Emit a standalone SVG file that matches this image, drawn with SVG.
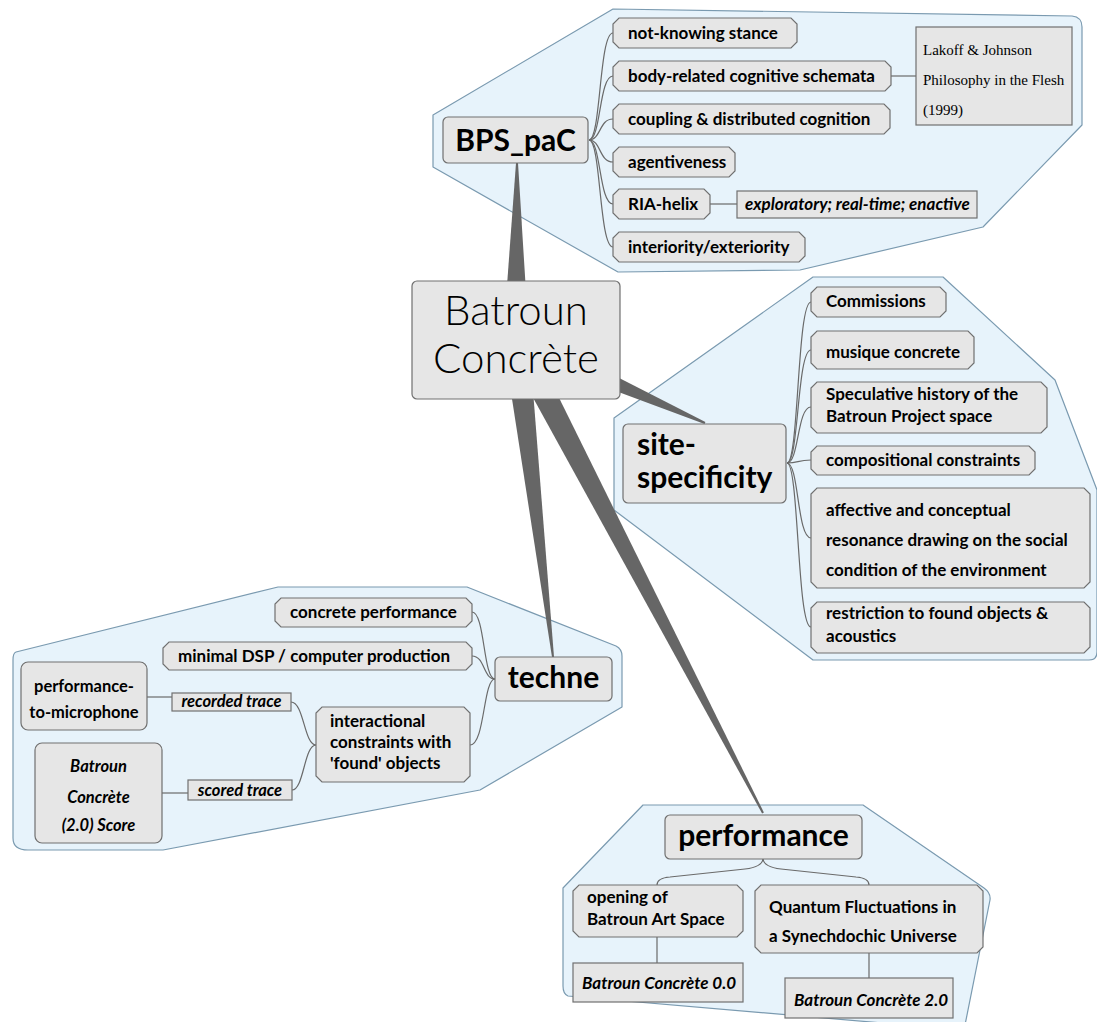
<svg xmlns="http://www.w3.org/2000/svg" width="1097" height="1022" viewBox="0 0 1097 1022">
  <style>
    .cluster { fill: #e7f3fb; stroke: #7a9ab0; stroke-width: 1.2; stroke-linejoin: round; }
    .node { fill: #e6e6e6; stroke: #707070; stroke-width: 1.2; }
    .wedge { fill: #666666; }
    .link { fill: none; stroke: #6a6a6a; stroke-width: 1.2; }
    .title { font-family: Lato, "Open Sans", sans-serif; font-weight: bold; font-size: 30px; fill: #000; }
    .main { font-family: Lato, "Open Sans", sans-serif; font-weight: 300; font-size: 42px; fill: #000; }
    .lbl { font-family: Lato, "Open Sans", sans-serif; font-weight: bold; font-size: 17px; fill: #000; }
    .lbl15 { font-family: Lato, "Open Sans", sans-serif; font-weight: bold; font-size: 16.5px; fill: #000; }
    .it { font-family: Lato, "Open Sans", sans-serif; font-weight: bold; font-style: italic; font-size: 17px; fill: #000; }
    .it15 { font-family: Lato, "Open Sans", sans-serif; font-weight: bold; font-style: italic; font-size: 16.5px; fill: #000; }
    .ref { font-family: "Liberation Serif", "Times New Roman", serif; font-size: 15px; fill: #000; }
  </style>

  <!-- cluster backgrounds -->
  <g id="clusters">
    <path class="cluster" d="M613,9 L1072,16 Q1082,17 1082,27 L1082,125 L983,227 L800,270 L618,272 L433,167 L433,115 Z"/>
    <path class="cluster" d="M813,277 L943,277 L1055,380 L1097,490 L1097,652 Q1097,660 1089,660 L813,660 L614,510 L614,418 Z"/>
    <path class="cluster" d="M16,652 L278,587 L467,587 L616,646 Q622,649 622,656 L622,707 L480,790 L163,850 L28,850 Q13,850 13,838 L13,660 Q13,653 16,652 Z"/>
    <path class="cluster" d="M643,805 L863,805 L984,888 Q991,893 990,900 L964,1030 L568,996 Q563,994 563,986 L563,888 Z"/>
  </g>

  <!-- connectors -->
  <g id="connectors">
    <!-- tapered branches from the root -->
    <polygon class="wedge" points="503,340 529,340 518,163 516,163"/>
    <polygon class="wedge" points="510.8,351.9 521.2,328.1 705.4,422.1 704.6,423.9"/>
    <polygon class="wedge" points="528.9,338.5 503.1,341.5 552,657.1 554,656.9"/>
    <polygon class="wedge" points="527.5,334 504.5,346 762.1,813.5 763.9,812.5"/>

    <!-- BPS_paC fan -->
    <path class="link" d="M589,140 C601,140 599,33 613,33"/>
    <path class="link" d="M589,140 C601,140 599,76 613,76"/>
    <path class="link" d="M589,140 C601,140 599,119 613,119"/>
    <path class="link" d="M589,140 C601,140 599,162 613,162"/>
    <path class="link" d="M589,140 C601,140 599,204 613,204"/>
    <path class="link" d="M589,140 C601,140 599,247 613,247"/>
    <path class="link" d="M891,76 L916,76"/>
    <path class="link" d="M710,204 L737,204"/>

    <!-- site-specificity fan -->
    <path class="link" d="M787,463 C799,463 797,302 811,302"/>
    <path class="link" d="M787,463 C799,463 797,350 811,350"/>
    <path class="link" d="M787,463 C799,463 797,407 811,407"/>
    <path class="link" d="M787,463 C799,463 797,460 811,460"/>
    <path class="link" d="M787,463 C799,463 797,538 811,538"/>
    <path class="link" d="M787,463 C799,463 797,627 811,627"/>

    <!-- techne fan -->
    <path class="link" d="M495,679 C483,679 485,612 472,612"/>
    <path class="link" d="M495,679 C483,679 485,656 472,656"/>
    <path class="link" d="M495,679 C483,679 485,745 470,745"/>
    <path class="link" d="M316,745 C304,745 304,702 291,702"/>
    <path class="link" d="M316,745 C304,745 304,790 292,790"/>
    <path class="link" d="M147,697 L172,697"/>
    <path class="link" d="M162,793 L188,793"/>

    <!-- performance fan -->
    <path class="link" d="M763,859 Q762,867 745,869 L670,877 Q657,878 657,885"/>
    <path class="link" d="M763,859 Q764,867 781,869 L856,877 Q869,878 869,885"/>
    <path class="link" d="M657,937 L657,963"/>
    <path class="link" d="M869,953 L869,978"/>
  </g>

  <!-- root -->
  <g id="root">
    <rect class="node" x="412" y="281" width="208" height="118" rx="5"/>
    <text class="main" x="516" y="325" text-anchor="middle">Batroun</text>
    <text class="main" x="516" y="373" text-anchor="middle">Concrète</text>
  </g>

  <!-- BPS_paC branch -->
  <g id="bps">
    <rect class="node" x="443" y="117" width="145" height="46" rx="5"/>
    <text class="title" x="515.5" y="151" text-anchor="middle">BPS_paC</text>
  </g>
  <g id="not-knowing">
    <polygon class="node" points="619,18 791,18 797,24 797,42 791,48 619,48 613,42 613,24"/>
    <text class="lbl" x="628" y="39">not-knowing stance</text>
  </g>
  <g id="body-related">
    <polygon class="node" points="619,61 885,61 891,67 891,85 885,91 619,91 613,85 613,67"/>
    <text class="lbl" x="628" y="82">body-related cognitive schemata</text>
  </g>
  <g id="lakoff">
    <rect class="node" x="916" y="27" width="156" height="98"/>
    <text class="ref" x="923" y="55">Lakoff &amp; Johnson</text>
    <text class="ref" x="923" y="85">Philosophy in the Flesh</text>
    <text class="ref" x="923" y="115">(1999)</text>
  </g>
  <g id="coupling">
    <polygon class="node" points="619,104 884,104 890,110 890,128 884,134 619,134 613,128 613,110"/>
    <text class="lbl" x="628" y="125">coupling &amp; distributed cognition</text>
  </g>
  <g id="agentiveness">
    <polygon class="node" points="619,147 729,147 735,153 735,171 729,177 619,177 613,171 613,153"/>
    <text class="lbl" x="628" y="168">agentiveness</text>
  </g>
  <g id="ria-helix">
    <polygon class="node" points="619,189 704,189 710,195 710,213 704,219 619,219 613,213 613,195"/>
    <text class="lbl" x="628" y="210">RIA-helix</text>
  </g>
  <g id="ria-modes">
    <rect class="node" x="737" y="191" width="240" height="27"/>
    <text class="it" x="745" y="210">exploratory; real-time; enactive</text>
  </g>
  <g id="interiority">
    <polygon class="node" points="619,232 799,232 805,238 805,256 799,262 619,262 613,256 613,238"/>
    <text class="lbl" x="628" y="253">interiority/exteriority</text>
  </g>

  <!-- site-specificity branch -->
  <g id="site">
    <rect class="node" x="623" y="424" width="163" height="79" rx="5"/>
    <text class="title" x="637" y="455">site-</text>
    <text class="title" x="637" y="488">specificity</text>
  </g>
  <g id="commissions">
    <polygon class="node" points="817,287 940,287 946,293 946,311 940,317 817,317 811,311 811,293"/>
    <text class="lbl" x="826" y="307">Commissions</text>
  </g>
  <g id="musique">
    <polygon class="node" points="817,331 968,331 974,337 974,363 968,369 817,369 811,363 811,337"/>
    <text class="lbl" x="826" y="358">musique concrete</text>
  </g>
  <g id="speculative">
    <polygon class="node" points="817,382 1041,382 1047,388 1047,427 1041,433 817,433 811,427 811,388"/>
    <text class="lbl" x="826" y="400">Speculative history of the</text>
    <text class="lbl" x="826" y="422">Batroun Project space</text>
  </g>
  <g id="compositional">
    <polygon class="node" points="817,446 1029,446 1035,452 1035,469 1029,475 817,475 811,469 811,452"/>
    <text class="lbl" x="826" y="466">compositional constraints</text>
  </g>
  <g id="affective">
    <polygon class="node" points="817,488 1084,488 1090,494 1090,582 1084,588 817,588 811,582 811,494"/>
    <text class="lbl" x="826" y="516">affective and conceptual</text>
    <text class="lbl" x="826" y="546">resonance drawing on the social</text>
    <text class="lbl" x="826" y="576">condition of the environment</text>
  </g>
  <g id="restriction">
    <polygon class="node" points="817,602 1084,602 1090,608 1090,647 1084,653 817,653 811,647 811,608"/>
    <text class="lbl" x="826" y="619">restriction to found objects &amp;</text>
    <text class="lbl" x="826" y="642">acoustics</text>
  </g>

  <!-- techne branch -->
  <g id="techne">
    <rect class="node" x="495" y="657" width="117" height="44" rx="5"/>
    <text class="title" x="553.5" y="688" text-anchor="middle">techne</text>
  </g>
  <g id="concrete-performance">
    <polygon class="node" points="281,598 466,598 472,604 472,621 466,627 281,627 275,621 275,604"/>
    <text class="lbl" x="290" y="618">concrete performance</text>
  </g>
  <g id="minimal-dsp">
    <polygon class="node" points="169,642 466,642 472,648 472,664 466,670 169,670 163,664 163,648"/>
    <text class="lbl" x="178" y="662">minimal DSP / computer production</text>
  </g>
  <g id="interactional">
    <polygon class="node" points="322,707 464,707 470,713 470,776 464,782 322,782 316,776 316,713"/>
    <text class="lbl" x="330" y="727">interactional</text>
    <text class="lbl" x="330" y="748">constraints with</text>
    <text class="lbl" x="330" y="769">'found' objects</text>
  </g>
  <g id="recorded-trace">
    <rect class="node" x="172" y="693" width="119" height="18"/>
    <text class="it15" x="231.5" y="707" text-anchor="middle">recorded trace</text>
  </g>
  <g id="scored-trace">
    <rect class="node" x="188" y="780" width="104" height="20"/>
    <text class="it15" x="240" y="796" text-anchor="middle">scored trace</text>
  </g>
  <g id="performance-to-microphone">
    <rect class="node" x="21" y="662" width="126" height="68" rx="7"/>
    <text class="lbl15" x="84" y="692" text-anchor="middle">performance-</text>
    <text class="lbl15" x="84" y="718" text-anchor="middle">to-microphone</text>
  </g>
  <g id="score">
    <rect class="node" x="35" y="743" width="127" height="100" rx="7"/>
    <text class="it15" x="98.5" y="772" text-anchor="middle">Batroun</text>
    <text class="it15" x="98.5" y="803" text-anchor="middle">Concrète</text>
    <text class="it15" x="98.5" y="831" text-anchor="middle">(2.0) Score</text>
  </g>

  <!-- performance branch -->
  <g id="performance">
    <rect class="node" x="665" y="815" width="197" height="44" rx="5"/>
    <text class="title" x="763.5" y="846" text-anchor="middle">performance</text>
  </g>
  <g id="opening">
    <polygon class="node" points="579,885 737,885 743,891 743,931 737,937 579,937 573,931 573,891"/>
    <text class="lbl" x="587" y="903">opening of</text>
    <text class="lbl" x="587" y="925">Batroun Art Space</text>
  </g>
  <g id="quantum">
    <polygon class="node" points="761,885 977,885 983,891 983,947 977,953 761,953 755,947 755,891"/>
    <text class="lbl" x="769" y="913">Quantum Fluctuations in</text>
    <text class="lbl" x="769" y="942">a Synechdochic Universe</text>
  </g>
  <g id="bc-0">
    <rect class="node" x="573" y="963" width="170" height="39"/>
    <text class="it" x="582" y="989">Batroun Concrète 0.0</text>
  </g>
  <g id="bc-2">
    <rect class="node" x="785" y="978" width="168" height="40"/>
    <text class="it" x="794" y="1006">Batroun Concrète 2.0</text>
  </g>
</svg>
